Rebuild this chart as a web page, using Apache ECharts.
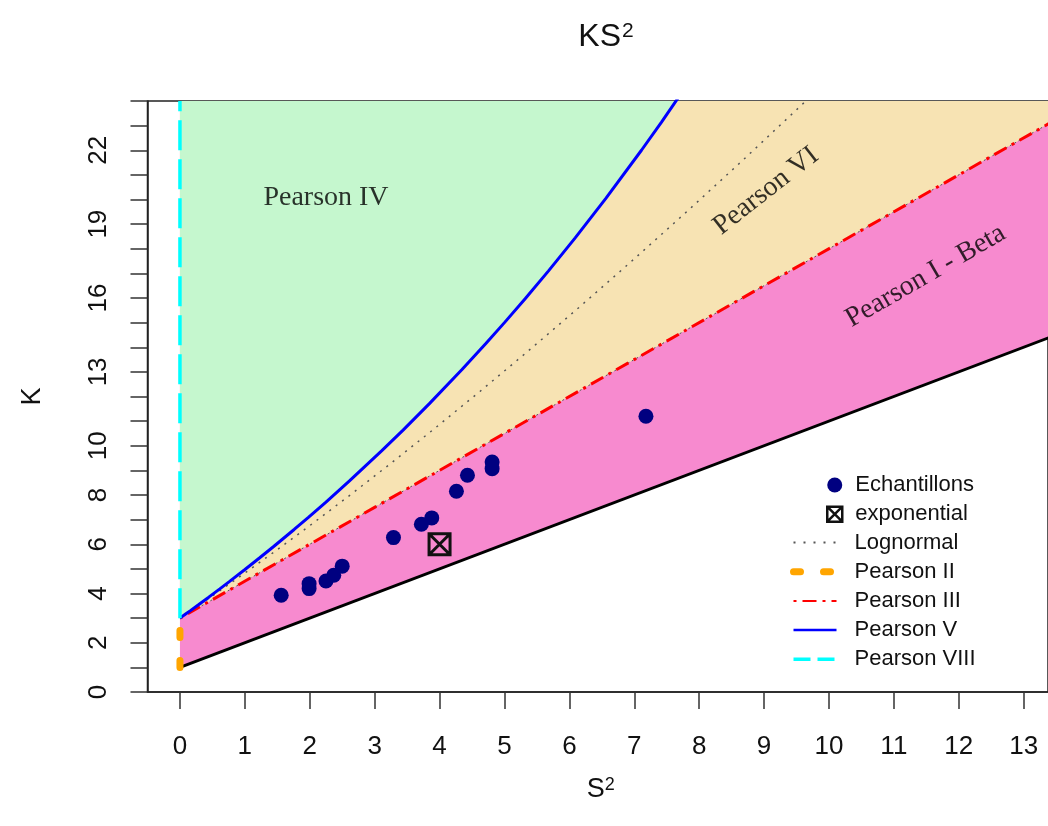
<!DOCTYPE html>
<html>
<head>
<meta charset="utf-8">
<script src="https://cdn.jsdelivr.net/npm/echarts@6/dist/echarts.min.js"></script>
<style>
html,body{margin:0;padding:0;background:#ffffff;}
#chart{width:1048px;height:826px;}
</style>
</head>
<body>
<div id="chart"></div>
<script>
// ---------------- data ----------------
const xTickValues = [0, 1, 2, 3, 4, 5, 6, 7, 8, 9, 10, 11, 12, 13];
const yTickValues = [0, 1, 2, 3, 4, 5, 6, 7, 8, 9, 10, 11, 12, 13, 14, 15, 16, 17, 18, 19, 20, 21, 22, 23, 24];
const yTickLabels = [0, 2, 4, 6, 8, 10, 13, 16, 19, 22];

// samples (Echantillons)
const sampleS2 = [1.56, 1.99, 1.99, 2.25, 2.37, 2.50, 3.29, 3.72, 3.88, 4.26, 4.43, 4.81, 4.81, 7.18];
const sampleK  = [3.93, 4.40, 4.20, 4.51, 4.74, 5.11, 6.27, 6.81, 7.07, 8.15, 8.80, 9.34, 9.07, 11.20];

// exponential marker
const exponentialS2 = [4];
const exponentialK  = [6];

// lower limit (black)
const lowerBoundS2 = [0, 14];
const lowerBoundK  = [1, 15];

// Pearson III (red dash-dot)
const pearson3S2 = [0, 14];
const pearson3K  = [3, 24];

// Pearson V (blue)
const pearson5S2 = [0, 0.0816, 0.1667, 0.2856, 0.4441, 0.6145, 0.7603, 0.9965, 1.2245, 1.444, 1.76, 1.975, 2.25, 2.612, 3.111, 3.438, 3.84, 4.346, 4.717, 5.0, 5.319, 5.679, 6.09, 6.5625, 7.111, 7.42, 7.755, 8.521];
const pearson5K  = [3, 3.154, 3.315, 3.543, 3.851, 4.188, 4.481, 4.963, 5.44, 5.909, 6.6, 7.083, 7.714, 8.571, 9.8, 10.636, 11.7, 13.095, 14.161, 15.0, 15.97, 17.103, 18.441, 20.045, 22.0, 23.145, 24.43, 27.52];

// Lognormal (grey dotted)
const lognormalS2 = [0, 0.1824, 0.4651, 0.961, 1.488, 2.048, 2.6406, 3.267, 3.928, 4.624, 5.356, 6.125, 6.931, 7.776, 8.66, 9.583, 9.964];
const lognormalK  = [3, 3.326, 3.838, 4.756, 5.758, 6.85, 8.035, 9.32, 10.71, 12.21, 13.825, 15.5625, 17.427, 19.426, 21.564, 23.848, 24.8];

// Pearson II (orange) and Pearson VIII (cyan) on S2 = 0
const pearson2S2 = [0, 0];
const pearson2K  = [1, 3];
const pearson8S2 = [0, 0];
const pearson8K  = [3, 24];

// region annotations
const regionNames = ['Pearson IV', 'Pearson VI', 'Pearson I - Beta'];
const regionS2    = [2.25, 9.03, 11.49];
const regionK     = [20.09, 20.35, 16.89];

// ---------------- chart ----------------
const zip = (a, b) => a.map((v, i) => [v, b[i]]);
const SANS = '"Liberation Sans", Arial, Helvetica, sans-serif';
const SERIF = '"Liberation Serif", "Times New Roman", Times, serif';
const PINK = '#F78ACF';
const BEIGE = '#F7E3B3';
const GREEN = '#C5F7CE';
const NAVY = '#000080';
const EXP_ICON = 'path://M0,0L20,0L20,20L0,20Z M0,0L20,20 M20,0L0,20';
const regionAngles = [0, 38, 30];

const chart = echarts.init(document.getElementById('chart'), null, {renderer: 'canvas'});

const option = {
  animation: false,
  backgroundColor: '#ffffff',
  title: {
    text: 'KS{sup|2}',
    left: 601,
    top: 16,
    textAlign: 'center',
    textStyle: {
      fontFamily: SANS, fontSize: 32, fontWeight: 'normal', color: '#111',
      rich: {sup: {fontFamily: SANS, fontSize: 21, color: '#111', verticalAlign: 'top', padding: [0, 0, 3, 1]}}
    }
  },
  grid: {
    left: 147.5, top: 101, right: 0, height: 591,
    show: true, borderColor: '#222', borderWidth: 1.5, backgroundColor: 'transparent'
  },
  xAxis: {
    type: 'value', min: -0.5, max: 13.375,
    name: 'S{sup|2}', nameLocation: 'middle', nameGap: 84,
    nameTextStyle: {
      fontFamily: SANS, fontSize: 27, color: '#111', padding: [0, 0, 0, 6],
      rich: {sup: {fontFamily: SANS, fontSize: 18, color: '#111', verticalAlign: 'top'}}
    },
    axisLine: {show: true, onZero: false, lineStyle: {color: '#222', width: 1.5}},
    axisTick: {show: true, inside: false, length: 17, customValues: xTickValues, lineStyle: {color: '#333', width: 1.5}},
    axisLabel: {show: true, customValues: xTickValues, margin: 42, fontFamily: SANS, fontSize: 26, color: '#111'},
    splitLine: {show: false}
  },
  yAxis: {
    type: 'value', min: 0, max: 24,
    name: 'K', nameLocation: 'middle', nameGap: 101, nameRotate: 90,
    nameTextStyle: {fontFamily: SANS, fontSize: 27, color: '#111'},
    axisLine: {show: true, onZero: false, lineStyle: {color: '#222', width: 1.5}},
    axisTick: {show: true, inside: false, length: 17, customValues: yTickValues, lineStyle: {color: '#333', width: 1.5}},
    axisLabel: {show: true, customValues: yTickLabels, rotate: 90, margin: 36, fontFamily: SANS, fontSize: 26, color: '#111'},
    splitLine: {show: false}
  },
  legend: [
    {
      orient: 'vertical', left: 826, top: 474, padding: 0,
      itemWidth: 15, itemHeight: 15, itemGap: 7.2,
      selectedMode: false,
      textStyle: {fontFamily: SANS, fontSize: 22, color: '#111', padding: [0, 0, 0, 8]},
      data: [
        {name: 'Echantillons', icon: 'circle', itemStyle: {color: NAVY, opacity: 1}},
        {name: 'exponential', icon: EXP_ICON, itemStyle: {color: 'rgba(0,0,0,0)', borderColor: '#111', borderWidth: 2.5}}
      ]
    },
    {
      orient: 'vertical', left: 790, top: 531.5, padding: 0,
      itemWidth: 43, itemHeight: 15, itemGap: 7.2,
      selectedMode: false,
      lineStyle: {width: 'inherit'},
      itemStyle: {color: 'rgba(0,0,0,0)', borderColor: 'rgba(0,0,0,0)', borderWidth: 0},
      textStyle: {fontFamily: SANS, fontSize: 22, color: '#111', padding: [0, 0, 0, 13]},
      data: [
        {name: 'Lognormal', lineStyle: {type: [2, 8], width: 2}},
        {name: 'Pearson II'},
        {name: 'Pearson III', lineStyle: {width: 2}},
        {name: 'Pearson V', lineStyle: {width: 2.5}},
        {name: 'Pearson VIII', lineStyle: {type: [17, 7]}}
      ]
    }
  ],
  series: [
    // ---- filled regions ----
    {
      name: 'regionBeta', type: 'line', silent: true, z: 1, symbol: 'none',
      data: zip(lowerBoundS2, lowerBoundK),
      lineStyle: {opacity: 0, width: 0},
      areaStyle: {color: PINK, opacity: 1, origin: 'end'}
    },
    {
      name: 'regionVI', type: 'line', silent: true, z: 1, symbol: 'none',
      data: zip(pearson3S2, pearson3K),
      lineStyle: {color: '#555', width: 1, type: [2, 3]},
      areaStyle: {color: BEIGE, opacity: 1, origin: 'end'}
    },
    {
      name: 'regionIV', type: 'line', silent: true, z: 1, symbol: 'none',
      data: zip(pearson5S2, pearson5K),
      lineStyle: {opacity: 0, width: 0},
      areaStyle: {color: GREEN, opacity: 1, origin: 'end'}
    },
    // ---- limit lines ----
    {
      name: 'limit', type: 'line', z: 3, symbol: 'none', silent: true,
      data: zip(lowerBoundS2, lowerBoundK),
      lineStyle: {color: '#000', width: 3}
    },
    {
      name: 'Lognormal', type: 'line', z: 3, symbol: 'none', silent: true,
      data: zip(lognormalS2, lognormalK),
      lineStyle: {color: '#555', width: 1.5, type: [2, 6]}
    },
    {
      name: 'Pearson III', type: 'line', z: 4, symbol: 'none', silent: true,
      data: zip(pearson3S2, pearson3K),
      lineStyle: {color: '#FF0000', width: 3, type: [3, 6, 14, 6]}
    },
    {
      name: 'Pearson V', type: 'line', z: 4, symbol: 'none', silent: true,
      data: zip(pearson5S2, pearson5K),
      lineStyle: {color: '#0000FF', width: 3}
    },
    {
      name: 'Pearson II', type: 'line', z: 4, symbol: 'none', silent: true,
      data: zip(pearson2S2, pearson2K),
      lineStyle: {color: '#FFA500', width: 7, type: [7, 23], cap: 'round'}
    },
    {
      name: 'Pearson VIII', type: 'line', z: 4, symbol: 'none', silent: true,
      data: zip(pearson8S2, pearson8K),
      lineStyle: {color: '#00FFFF', width: 3.5, type: [30, 9]}
    },
    // ---- points ----
    {
      name: 'Echantillons', type: 'scatter', z: 5, symbol: 'circle', symbolSize: 15,
      data: zip(sampleS2, sampleK),
      itemStyle: {color: NAVY, opacity: 1}
    },
    {
      name: 'exponential', type: 'scatter', z: 5, symbol: EXP_ICON, symbolSize: 21,
      data: zip(exponentialS2, exponentialK),
      itemStyle: {color: 'rgba(0,0,0,0)', borderColor: '#111', borderWidth: 3, opacity: 1}
    },
    // ---- region labels ----
    {
      name: 'regionLabels', type: 'scatter', z: 6, symbolSize: 0, silent: true,
      itemStyle: {color: 'rgba(0,0,0,0)'},
      data: regionNames.map((n, i) => ({
        name: n, value: [regionS2[i], regionK[i]],
        label: {rotate: regionAngles[i]}
      })),
      label: {
        show: true, position: 'inside', formatter: '{b}',
        fontFamily: SERIF, fontSize: 28, color: '#000',
        textBorderWidth: 0, textBorderColor: 'rgba(0,0,0,0)', textShadowBlur: 0
      }
    }
  ]
};

chart.setOption(option);
</script>
</body>
</html>
